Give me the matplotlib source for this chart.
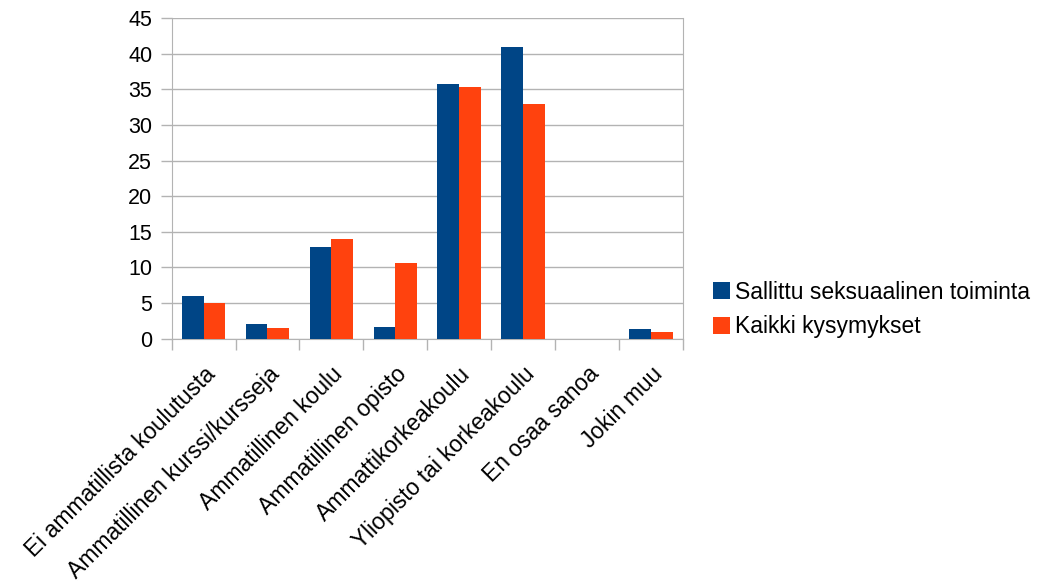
import matplotlib
matplotlib.use("Agg")
import matplotlib.pyplot as plt
import numpy as np

categories = ["Ei ammatillista koulutusta", "Ammatillinen kurssi/kursseja",
              "Ammatillinen koulu", "Ammatillinen opisto", "Ammattikorkeakoulu",
              "Yliopisto tai korkeakoulu", "En osaa sanoa", "Jokin muu"]
series_names = ["Sallittu seksuaalinen toiminta", "Kaikki kysymykset"]
sallittu = [6.0, 2.1, 12.9, 1.7, 35.7, 40.9, 0.0, 1.3]
kaikki = [5.0, 1.5, 14.0, 10.6, 35.3, 32.9, 0.0, 1.0]
yticks = [0, 5, 10, 15, 20, 25, 30, 35, 40, 45]

plt.rcParams['font.family'] = ['Liberation Sans', 'DejaVu Sans']

fig = plt.figure(figsize=(10.37, 5.83), dpi=100)
ax = fig.add_axes([0.1655, 0.419, 0.493, 0.55])

x = np.arange(len(categories))
w = 0.34
gray = "#b3b3b3"
ax.bar(x - w/2, sallittu, w, color="#004586", label=series_names[0], zorder=3)
ax.bar(x + w/2, kaikki, w, color="#ff420e", label=series_names[1], zorder=3)

ax.set_xlim(-0.5, len(categories) - 0.5)
ax.set_ylim(0, 45)
ax.set_yticks(yticks)
ax.set_yticklabels([str(v) for v in yticks], fontsize=15.5)
ax.yaxis.grid(True, color=gray, linewidth=1, zorder=0)
ax.set_axisbelow(True)

ax.set_xticks(x)
ax.set_xticklabels(categories, rotation=45, ha='right', rotation_mode='anchor', fontsize=16.5)
ax.tick_params(axis='x', which='major', length=0, pad=17)
ax.set_xticks(np.arange(len(categories) + 1) - 0.5, minor=True)
ax.tick_params(axis='x', which='minor', length=8, color=gray, width=1)
ax.tick_params(axis='y', length=8, color=gray, width=1, pad=6)

for s in ['left', 'bottom', 'right']:
    ax.spines[s].set_color(gray)
ax.spines['top'].set_visible(False)

fig.legend(loc='center left', bbox_to_anchor=(0.6675, 0.469), frameon=False,
           fontsize=16.5, handlelength=0.75, handleheight=0.75, handletextpad=0.22,
           labelspacing=0.5)

fig.savefig("out.png", dpi=100)
